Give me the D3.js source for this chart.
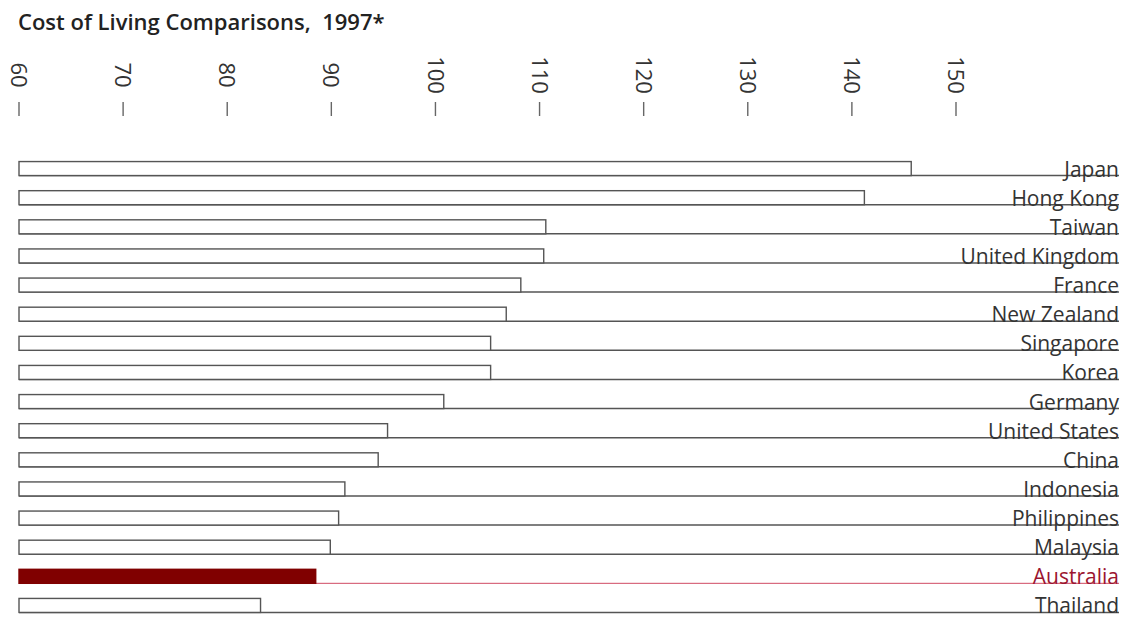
<!DOCTYPE html>
<html lang="en">
<head>
  <meta charset="UTF-8">
  <title>Cost of Living Comparisons, 1997*</title>
  <style>
    body { margin: 0; background: #fff; }
    svg { display: block; }
    text { font-family: "Open Sans", "Noto Sans", sans-serif; }
  </style>
</head>
<body>
  <script src="https://d3js.org/d3.v7.min.js"></script>
  <script>
    const width = 1132, height = 619;

    // data
    const countries = ["Japan", "Hong Kong", "Taiwan", "United Kingdom", "France", "New Zealand",
      "Singapore", "Korea", "Germany", "United States", "China", "Indonesia", "Philippines",
      "Malaysia", "Australia", "Thailand"];
    const costIndex = [145.7, 141.2, 110.6, 110.4, 108.2, 106.8, 105.3, 105.3, 100.8, 95.4,
      94.5, 91.3, 90.7, 89.9, 88.5, 83.2];
    const tickValues = [60, 70, 80, 90, 100, 110, 120, 130, 140, 150];
    const highlight = "Australia";

    const data = countries.map((c, i) => ({ country: c, value: costIndex[i] }));

    const svg = d3.select("body").append("svg")
      .attr("width", width)
      .attr("height", height);

    svg.append("text")
      .attr("x", 18)
      .attr("y", 30)
      .attr("font-size", 22)
      .attr("font-weight", 600)
      .attr("fill", "#222")
      .style("white-space", "pre")
      .text("Cost of Living Comparisons,  1997*");

    const x = d3.scaleLinear().domain([60, 150]).range([19, 956]);
    const y = d3.scaleBand().domain(countries).range([153, 619]).paddingInner(0.5).paddingOuter(0.25);

    // top axis: rotated labels + short tick marks
    const axis = svg.append("g");
    const tick = axis.selectAll("g").data(tickValues).enter().append("g")
      .attr("transform", d => `translate(${x(d)},0)`);
    tick.append("text")
      .attr("transform", "translate(0,75) rotate(90)")
      .attr("text-anchor", "middle")
      .attr("dy", "0.36em")
      .attr("font-size", 22)
      .attr("fill", "#333")
      .text(d => d);
    tick.append("line")
      .attr("y1", 102).attr("y2", 116)
      .attr("stroke", "#666").attr("stroke-width", 1.4);

    const rowH = 14;
    const labelX = 1119;

    const row = svg.append("g").selectAll("g").data(data).enter().append("g")
      .attr("transform", d => `translate(0,${y(d.country) + y.bandwidth() / 2 - rowH / 2 + 1})`);

    row.append("line")
      .attr("x1", x(60)).attr("x2", labelX)
      .attr("y1", rowH).attr("y2", rowH)
      .attr("stroke", d => d.country === highlight ? "#d04a63" : "#555")
      .attr("stroke-width", d => d.country === highlight ? 1 : 1.4);

    row.append("rect")
      .attr("x", x(60))
      .attr("y", 0)
      .attr("width", d => x(d.value) - x(60))
      .attr("height", rowH)
      .attr("fill", d => d.country === highlight ? "#800000" : "#fff")
      .attr("stroke", d => d.country === highlight ? "#800000" : "#555")
      .attr("stroke-width", 1.4);

    row.append("text")
      .attr("x", labelX)
      .attr("y", rowH + 1)
      .attr("text-anchor", "end")
      .attr("font-size", 21)
      .attr("fill", d => d.country === highlight ? "#9b1530" : "#333")
      .text(d => d.country);
  </script>
</body>
</html>
